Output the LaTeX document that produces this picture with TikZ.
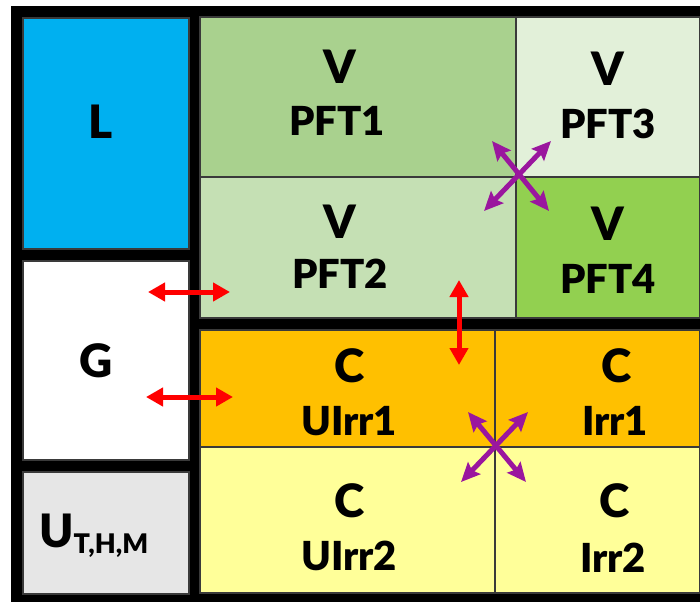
\documentclass[tikz,border=0pt]{standalone}
\usepackage{fontspec}
\setmainfont{Lato}[BoldFont={Lato Black}]
\usetikzlibrary{arrows.meta}
\definecolor{cL}{HTML}{00B0F0}
\definecolor{cG}{HTML}{FFFFFF}
\definecolor{cU}{HTML}{E6E6E6}
\definecolor{cP1}{HTML}{A9D18E}
\definecolor{cP2}{HTML}{C5E0B4}
\definecolor{cP3}{HTML}{E2F0D9}
\definecolor{cP4}{HTML}{92D050}
\definecolor{cOr}{HTML}{FFC000}
\definecolor{cYe}{HTML}{FFFF99}
\definecolor{cRed}{HTML}{FF0000}
\definecolor{cPur}{HTML}{9A169E}
\definecolor{cEdge}{HTML}{3A3A3A}
\begin{document}
\begin{tikzpicture}[x=1pt,y=-1pt,
  cell/.style={rectangle, draw=cEdge, line width=1.2pt, inner sep=0pt},
  big/.style={font=\bfseries\fontsize{46}{46}\selectfont, anchor=base, inner sep=0pt},
  small/.style={font=\bfseries\fontsize{40}{40}\selectfont, anchor=base, inner sep=0pt},
  redarrow/.style={draw=cRed, line width=5pt, {Triangle[length=17pt,width=18pt]}-{Triangle[length=17pt,width=18pt]}},
  purarrow/.style={draw=cPur, line width=5pt, {Stealth[length=19pt,width=17pt,inset=3pt]}-{Stealth[length=19pt,width=17pt,inset=3pt]}}
]
\useasboundingbox (0,0) rectangle (700,602);
\fill[white] (0,0) rectangle (700,602);
\node[rectangle, fill=black, inner sep=0pt, minimum width=689, minimum height=596] (frame) at (355.5,304) {};
% left column
\node[cell, fill=cL, minimum width=166, minimum height=231] (L) at (106,133.5) {};
\node[cell, fill=cG, minimum width=166, minimum height=199] (G) at (106,360.5) {};
\node[cell, fill=cU, minimum width=166, minimum height=122] (U) at (106,533) {};
% vegetation
\node[cell, fill=cP1, minimum width=316, minimum height=160] (P1) at (358,97) {};
\node[cell, fill=cP3, minimum width=184, minimum height=160] (P3) at (608,97) {};
\node[cell, fill=cP2, minimum width=316, minimum height=141] (P2) at (358,247.5) {};
\node[cell, fill=cP4, minimum width=184, minimum height=141] (P4) at (608,247.5) {};
% carbon
\node[cell, fill=cOr, minimum width=295, minimum height=117] (C1) at (347.5,388.5) {};
\node[cell, fill=cOr, minimum width=205, minimum height=117] (C2) at (597.5,388.5) {};
\node[cell, fill=cYe, minimum width=295, minimum height=146] (C3) at (347.5,520) {};
\node[cell, fill=cYe, minimum width=205, minimum height=146] (C4) at (597.5,520) {};
% labels
\node[big] (tL) at (101,138) {L};
\node[big] (tG) at (96,377) {G};
\node[anchor=base west, inner sep=0pt] (tU) at (39,547) {\bfseries\fontsize{46}{46}\selectfont U\raisebox{-6pt}{\fontsize{27}{27}\selectfont T,H,M}};
\node[big] (v1) at (340,83) {V};
\node[small] (p1) at (337,135) {PFT1};
\node[big] (v3) at (608,85) {V};
\node[small] (p3) at (608,138) {PFT3};
\node[big] (v2) at (340,238) {V};
\node[small] (p2) at (340,288) {PFT2};
\node[big] (v4) at (608,240) {V};
\node[small] (p4) at (608,293) {PFT4};
\node[big] (c1) at (350,382) {C};
\node[small] (u1) at (349,435) {UIrr1};
\node[big] (c2) at (617,382) {C};
\node[small] (i1) at (615,435) {Irr1};
\node[big] (c3) at (350,517) {C};
\node[small] (u2) at (349,570) {UIrr2};
\node[big] (c4) at (615,517) {C};
\node[small] (i2) at (613,572) {Irr2};
% arrows
\coordinate (ra1) at (148,292); \coordinate (rb1) at (230,292);
\coordinate (ra2) at (146,397); \coordinate (rb2) at (233,397);
\coordinate (ra3) at (459,280); \coordinate (rb3) at (459,365);
\draw[redarrow] (ra1) -- (rb1);
\draw[redarrow] (ra2) -- (rb2);
\draw[redarrow] (ra3) -- (rb3);
\coordinate (xa1) at (492,141); \coordinate (xb1) at (549,211);
\coordinate (xc1) at (551,141); \coordinate (xd1) at (484,211);
\coordinate (xa2) at (468,412); \coordinate (xb2) at (526,482);
\coordinate (xc2) at (528,412); \coordinate (xd2) at (461,482);
\draw[purarrow] (xa1) -- (xb1);
\draw[purarrow] (xc1) -- (xd1);
\draw[purarrow] (xa2) -- (xb2);
\draw[purarrow] (xc2) -- (xd2);
\end{tikzpicture}
\end{document}
